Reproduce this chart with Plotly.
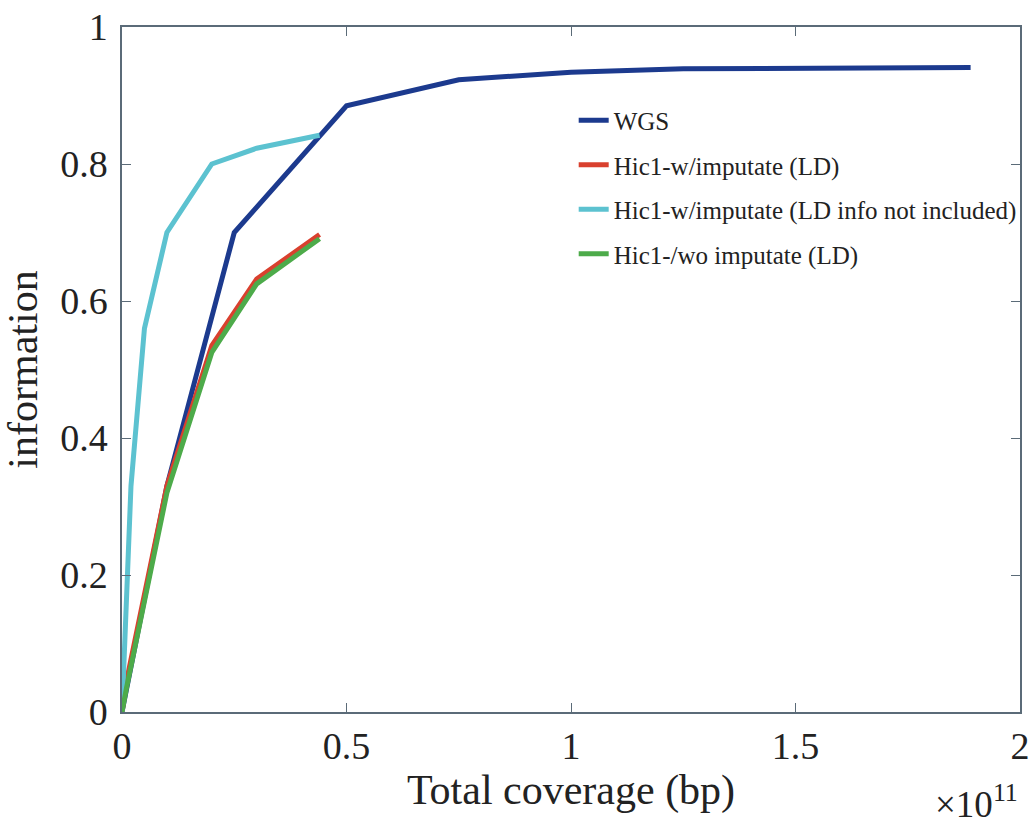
import plotly.graph_objects as go

# x in units of 1e11 bp
wgs_x = [0, 0.1, 0.25, 0.5, 0.75, 1.0, 1.25, 1.89]
wgs_y = [0, 0.33, 0.70, 0.885, 0.923, 0.934, 0.939, 0.941]

ld_x = [0, 0.01, 0.1, 0.2, 0.3, 0.44]
ld_y = [0, 0.045, 0.33, 0.535, 0.632, 0.697]

noinfo_x = [0, 0.02, 0.05, 0.1, 0.2, 0.3, 0.44]
noinfo_y = [0, 0.33, 0.56, 0.70, 0.80, 0.823, 0.842]

wo_x = [0, 0.01, 0.1, 0.2, 0.3, 0.44]
wo_y = [0, 0.035, 0.32, 0.525, 0.625, 0.691]

names = ["WGS", "Hic1-w/imputate (LD)", "Hic1-w/imputate (LD info not included)", "Hic1-/wo imputate (LD)"]
colors = ["#1c3a8e", "#d9402e", "#5cc2d0", "#4dab4a"]

x_ticks = [0, 0.5, 1, 1.5, 2]
x_ticklabels = ["0", "0.5", "1", "1.5", "2"]
y_ticks = [0, 0.2, 0.4, 0.6, 0.8, 1]
y_ticklabels = ["0", "0.2", "0.4", "0.6", "0.8", "1"]

fig = go.Figure()
series = [(wgs_x, wgs_y), (ld_x, ld_y), (noinfo_x, noinfo_y), (wo_x, wo_y)]
for i, ((xs, ys), n, c) in enumerate(zip(series, names, colors)):
    fig.add_trace(go.Scatter(x=xs, y=ys, mode="lines", name=n,
                             line=dict(color=c, width=5), legendgroup=f"g{i}"))

axis_color = "#5b6b78"
font_family = "Liberation Serif, serif"
fig.update_layout(
    width=1035, height=829,
    paper_bgcolor="white", plot_bgcolor="white",
    margin=dict(l=122, r=15, t=27, b=117, autoexpand=False),
    font=dict(family=font_family, color="#222222"),
    showlegend=True,
    legend=dict(x=0.503, y=0.897, xanchor="left", yanchor="top",
                bgcolor="rgba(255,255,255,0)", borderwidth=0,
                font=dict(size=25, family=font_family, color="#222222"),
                tracegroupgap=9, traceorder="grouped"),
    xaxis=dict(range=[0, 2], tickvals=x_ticks, ticktext=x_ticklabels,
               ticks="inside", ticklen=9, tickcolor=axis_color, mirror="ticks",
               showline=True, linecolor=axis_color, linewidth=1.5, showgrid=False,
               zeroline=False, tickfont=dict(size=38, family=font_family), automargin=False,
               title=dict(text="Total coverage (bp)", font=dict(size=42, family=font_family), standoff=8)),
    yaxis=dict(range=[0, 1], tickvals=y_ticks, ticktext=y_ticklabels,
               ticks="inside", ticklen=9, tickcolor=axis_color, mirror="ticks",
               showline=True, linecolor=axis_color, linewidth=1.5, showgrid=False,
               zeroline=False, tickfont=dict(size=38, family=font_family), automargin=False,
               ticklabelstandoff=5,
               title=dict(text="information", font=dict(size=42, family=font_family), standoff=10)),
)
fig.add_annotation(text="×10<sup>11</sup>", x=1.0, y=0, xref="paper", yref="paper",
                   xanchor="right", yanchor="bottom", yshift=-115, showarrow=False,
                   font=dict(size=37, family=font_family, color="#222222"))
fig.write_html("out.html", config={"displayModeBar": False},
               post_script="document.body.style.margin='0px';")
